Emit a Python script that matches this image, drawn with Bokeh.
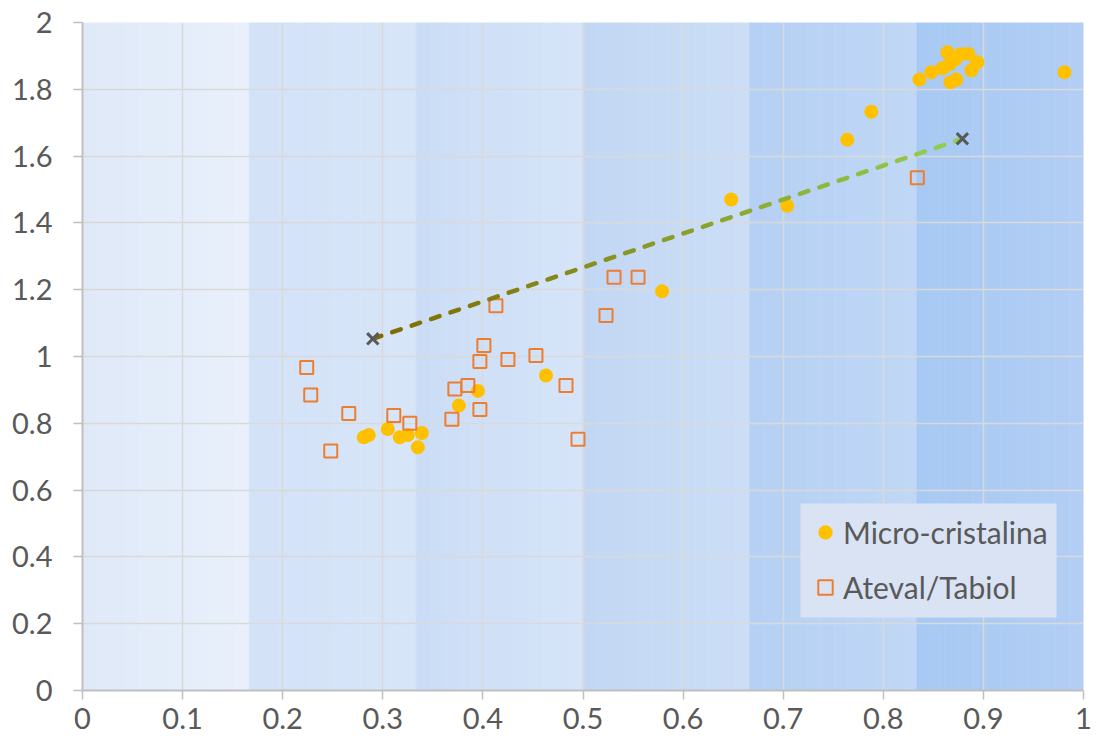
import numpy as np
from bokeh.plotting import figure
from bokeh.models import FixedTicker, NumeralTickFormatter, Legend, LegendItem, Range1d, BoxAnnotation
from bokeh.embed import file_html
from bokeh.resources import INLINE

# ---------------- data ----------------
micro_x = [0.281, 0.286, 0.305, 0.317, 0.325, 0.339, 0.335, 0.376, 0.395, 0.463,
           0.579, 0.648, 0.704, 0.764, 0.788, 0.836, 0.848, 0.864, 0.859, 0.866,
           0.872, 0.877, 0.885, 0.894, 0.888, 0.867, 0.873, 0.981]
micro_y = [0.758, 0.765, 0.783, 0.758, 0.765, 0.771, 0.728, 0.853, 0.897, 0.943,
           1.195, 1.470, 1.451, 1.649, 1.733, 1.829, 1.851, 1.911, 1.863, 1.875,
           1.890, 1.905, 1.906, 1.881, 1.857, 1.821, 1.829, 1.851]

ateval_x = [0.224, 0.228, 0.266, 0.248, 0.311, 0.327, 0.369, 0.372, 0.385, 0.397,
            0.397, 0.401, 0.413, 0.425, 0.453, 0.483, 0.495, 0.531, 0.555, 0.523,
            0.834]
ateval_y = [0.967, 0.885, 0.829, 0.717, 0.823, 0.800, 0.812, 0.903, 0.913, 0.841,
            0.985, 1.033, 1.152, 0.991, 1.003, 0.913, 0.752, 1.237, 1.237, 1.123,
            1.535]

trend_x = [0.290, 0.879]
trend_y = [1.053, 1.652]

x_ticks = [0, 0.1, 0.2, 0.3, 0.4, 0.5, 0.6, 0.7, 0.8, 0.9, 1]
y_ticks = [0, 0.2, 0.4, 0.6, 0.8, 1, 1.2, 1.4, 1.6, 1.8, 2]

band_edges = [0, 1/6, 2/6, 3/6, 4/6, 5/6, 1]
band_left_colors = ["#dfe9f8", "#d3e2f7", "#cbddf6", "#c2d7f4", "#b4d0f4", "#a7c9f3"]
band_right_colors = ["#e9f0fb", "#d7e5f8", "#d5e4f8", "#ccdef6", "#c1d7f5", "#b2cef4"]

trend_color_start = (128, 105, 0)
trend_color_end = (146, 208, 80)

# ---------------- layout ----------------
W, H = 1093, 748
ML, MR, MT, MB = 82, 10, 22, 58
frame_w = W - ML - MR
frame_h = H - MT - MB

p = figure(width=W, height=H, x_range=Range1d(0, 1), y_range=Range1d(0, 2),
           output_backend="svg", toolbar_location=None,
           min_border_left=ML, min_border_right=MR, min_border_top=MT, min_border_bottom=MB)
p.outline_line_color = None
p.background_fill_color = "white"


def hex2rgb(h):
    h = h.lstrip("#")
    return tuple(int(h[i:i + 2], 16) for i in (0, 2, 4))


def mix(c0, c1, t):
    return "#%02x%02x%02x" % tuple(int(round(a + (b - a) * t)) for a, b in zip(c0, c1))


# background gradient bands
lefts, rights, cols = [], [], []
n_strips = 12
for i in range(len(band_edges) - 1):
    a, b = band_edges[i], band_edges[i + 1]
    c0, c1 = hex2rgb(band_left_colors[i]), hex2rgb(band_right_colors[i])
    for k in range(n_strips):
        lefts.append(a + (b - a) * k / n_strips)
        rights.append(a + (b - a) * (k + 1) / n_strips)
        cols.append(mix(c0, c1, (k + 0.5) / n_strips))
p.quad(left=lefts, right=rights, bottom=0, top=2, fill_color=cols, line_color=cols,
       line_width=0.6, level="image")

# axes / grid
for ax in (p.xaxis[0], p.yaxis[0]):
    ax.axis_line_color = "#bfbfbf"
    ax.axis_line_width = 2
    ax.major_tick_line_color = "#bfbfbf"
    ax.major_tick_line_width = 1.5
    ax.major_tick_out = 9
    ax.major_tick_in = 0
    ax.minor_tick_line_color = None
    ax.major_label_text_font = "Lato"
    ax.major_label_text_font_size = "29px"
    ax.major_label_text_color = "#595959"
    ax.formatter = NumeralTickFormatter(format="0.[0]")

p.xaxis.ticker = FixedTicker(ticks=x_ticks)
p.yaxis.ticker = FixedTicker(ticks=y_ticks)
p.xaxis.major_label_standoff = 8
p.yaxis.major_label_standoff = 21

p.xgrid.ticker = FixedTicker(ticks=x_ticks)
p.ygrid.ticker = FixedTicker(ticks=y_ticks)
p.xgrid.grid_line_color = "#d9d9d9"
p.ygrid.grid_line_color = "#d9d9d9"
p.xgrid.grid_line_width = 1.5
p.ygrid.grid_line_width = 1.5

# points
r1 = p.scatter(micro_x, micro_y, marker="circle", size=14, fill_color="#ffc000", line_color=None)
r2 = p.scatter(ateval_x, ateval_y, marker="square", size=13, fill_color=None,
               line_color="#ed7d31", line_width=2)

# trend line: dashed, colour gradient along its length
px_per_x = frame_w / 1.0
px_per_y = frame_h / 2.0
dxp = (trend_x[1] - trend_x[0]) * px_per_x
dyp = (trend_y[1] - trend_y[0]) * px_per_y
L = (dxp ** 2 + dyp ** 2) ** 0.5
period, dash = 20.5, 9.0
xs, ys, dcols = [], [], []
t = 0.0
while t < 1.0:
    t1 = min(t + dash / L, 1.0)
    xs.append([trend_x[0] + (trend_x[1] - trend_x[0]) * t, trend_x[0] + (trend_x[1] - trend_x[0]) * t1])
    ys.append([trend_y[0] + (trend_y[1] - trend_y[0]) * t, trend_y[0] + (trend_y[1] - trend_y[0]) * t1])
    dcols.append(mix(trend_color_start, trend_color_end, (t + t1) / 2))
    t += period / L
p.multi_line(xs, ys, line_color=dcols, line_width=4.5, line_cap="round")
p.scatter(trend_x, trend_y, marker="x", size=16, line_color="#595959", line_width=3)

# legend panel (page pixels 800..1056 x 503..617)
box_l, box_r, box_t, box_b = 800, 1056, 503, 617
to_x = lambda px: (px - ML) / px_per_x
to_y = lambda py: (MT + frame_h - py) / px_per_y
p.add_layout(BoxAnnotation(left=to_x(box_l), right=to_x(box_r), top=to_y(box_t), bottom=to_y(box_b),
                           fill_color="#d9e3f4", fill_alpha=1, line_color=None))

legend = Legend(items=[LegendItem(label="Micro-cristalina", renderers=[r1]),
                       LegendItem(label="Ateval/Tabiol", renderers=[r2])],
                location=(725, 83))
legend.background_fill_alpha = 0
legend.border_line_color = None
legend.label_text_font = "Lato"
legend.label_text_font_size = "30px"
legend.label_text_color = "#595959"
legend.padding = 7
legend.spacing = 15
legend.glyph_width = 36
legend.glyph_height = 40
legend.label_height = 40
legend.label_standoff = -4
legend.margin = 0
p.add_layout(legend)

open("out.html", "w").write(file_html(p, INLINE))
